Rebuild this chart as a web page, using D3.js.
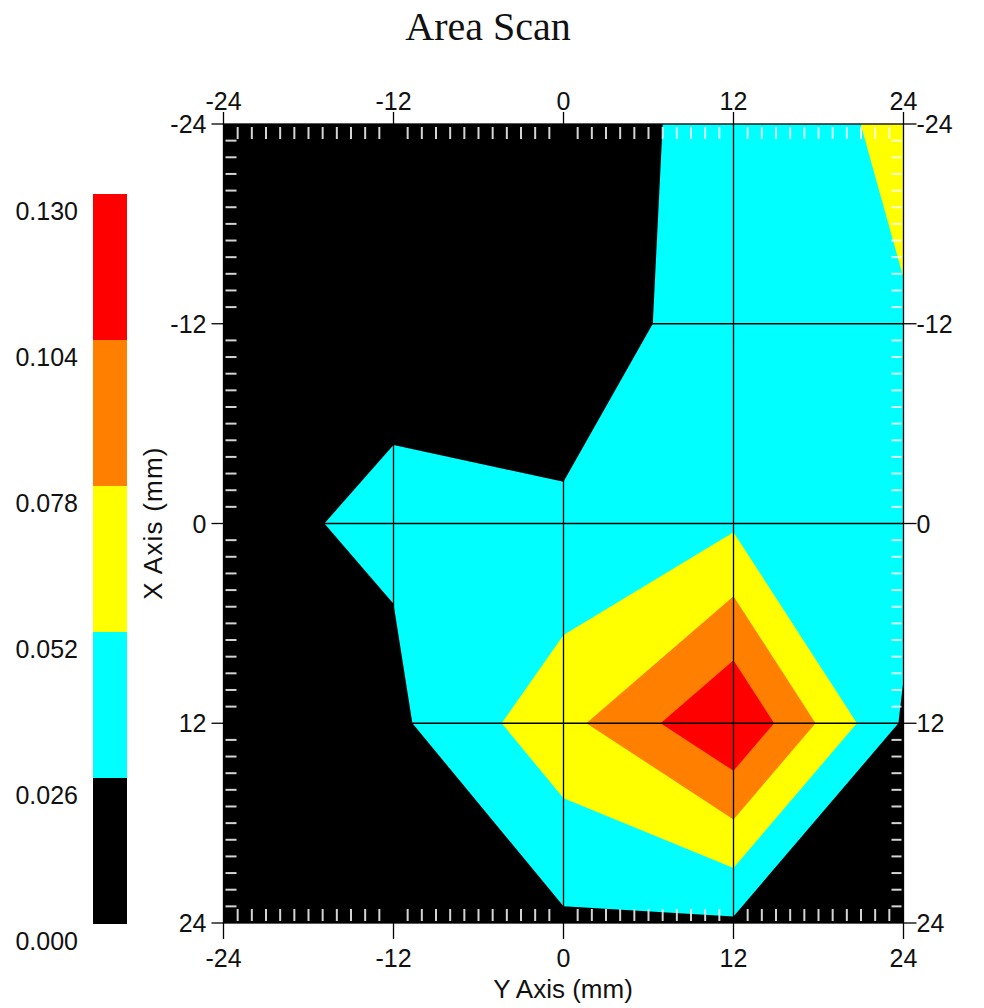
<!DOCTYPE html>
<html><head><meta charset="utf-8">
<script src="https://cdn.jsdelivr.net/npm/d3@7"></script>
<style>body{margin:0;background:#fff;} svg{display:block}</style>
</head><body>
<svg id="c" width="984" height="1008"></svg>
<script>
// grid positions (mm)
const colsMM = [-24, -12, 0, 12, 24];   // horizontal: "Y Axis (mm)"
const rowsMM = [-24, -12, 0, 12, 24];   // vertical: "X Axis (mm)"
// measured values, one array per row (top row = -24)
const rowM24 = [0.010, 0.011, 0.012, 0.036, 0.0574];
const rowM12 = [0.012, 0.0203, 0.0135, 0.0373, 0.0504];
const row0   = [0.0206, 0.0297, 0.0293, 0.0485, 0.0376];
const row12  = [0.016, 0.0205, 0.070, 0.1295, 0.0228];
const row24  = [0.012, 0.015, 0.022, 0.0225, 0.018];
// colour levels
const levels = [0.000, 0.026, 0.052, 0.078, 0.104, 0.130];
const levelLabels = ["0.000", "0.026", "0.052", "0.078", "0.104", "0.130"];
const levelColors = ["#000000", "#00ffff", "#ffff00", "#ff8000", "#ff0000"];
const tickValues = [-24, -12, 0, 12, 24];
const tickLabels = ["-24", "-12", "0", "12", "24"];

const svg = d3.select("#c");
const numFont = "'Liberation Sans', Arial, sans-serif";

const x = d3.scaleLinear().domain([-24, 24]).range([223.5, 903.5]);
const y = d3.scaleLinear().domain([-24, 24]).range([124, 923]);

// title
svg.append("text").attr("x", 488).attr("y", 40).attr("text-anchor", "middle")
  .attr("font-family", "'Liberation Serif', 'Times New Roman', serif").attr("font-size", 40)
  .attr("fill", "#111").text("Area Scan");

// clip
svg.append("defs").append("clipPath").attr("id", "plotClip").append("rect")
  .attr("x", x(-24)).attr("y", y(-24)).attr("width", x(24) - x(-24)).attr("height", y(24) - y(-24));

const plot = svg.append("g").attr("clip-path", "url(#plotClip)");
plot.append("rect").attr("x", x(-24)).attr("y", y(-24))
  .attr("width", x(24) - x(-24)).attr("height", y(24) - y(-24)).attr("fill", levelColors[0]);

// contours
const nx = colsMM.length, ny = rowsMM.length;
const values = [].concat(rowM24, rowM12, row0, row12, row24);
const gx = d3.scaleLinear().domain([0.5, nx - 0.5]).range([x(colsMM[0]), x(colsMM[nx - 1])]);
const gy = d3.scaleLinear().domain([0.5, ny - 0.5]).range([y(rowsMM[0]), y(rowsMM[ny - 1])]);
const contours = d3.contours().size([nx, ny]).thresholds(levels.slice(1, 5))(values);
const path = d3.geoPath(d3.geoTransform({point: function(px, py) { this.stream.point(gx(px), gy(py)); }}));
plot.selectAll("path.band").data(contours).join("path").attr("class", "band")
  .attr("d", path).attr("fill", (d, i) => levelColors[i + 1]).attr("stroke", "none");

// grid lines
[-12, 0, 12].forEach(v => {
  plot.append("line").attr("x1", x(v)).attr("x2", x(v)).attr("y1", y(-24)).attr("y2", y(24))
    .attr("stroke", "#000").attr("stroke-width", 1.3);
  plot.append("line").attr("y1", y(v)).attr("y2", y(v)).attr("x1", x(-24)).attr("x2", x(24))
    .attr("stroke", "#000").attr("stroke-width", 1.3);
});

// inner minor ticks (light, blended so they fade on bright fills)
const minors = d3.range(-23, 24).filter(v => v % 12 !== 0);
const mt = plot.append("g").attr("stroke", "#d4d4d4").attr("stroke-width", 2)
  .style("mix-blend-mode", "lighten");
minors.forEach(v => {
  mt.append("line").attr("x1", x(v)).attr("x2", x(v)).attr("y1", y(-24) + 3).attr("y2", y(-24) + 15);
  mt.append("line").attr("x1", x(v)).attr("x2", x(v)).attr("y1", y(24) - 2).attr("y2", y(24) - 14);
  mt.append("line").attr("y1", y(v)).attr("y2", y(v)).attr("x1", x(-24) + 2).attr("x2", x(-24) + 13);
  mt.append("line").attr("y1", y(v)).attr("y2", y(v)).attr("x1", x(24) - 2).attr("x2", x(24) - 12);
});

// frame
svg.append("rect").attr("x", x(-24)).attr("y", y(-24)).attr("width", x(24) - x(-24))
  .attr("height", y(24) - y(-24)).attr("fill", "none").attr("stroke", "#000").attr("stroke-width", 1.3);

// major ticks and labels
const ax = svg.append("g").attr("stroke", "#000").attr("stroke-width", 1.3);
const lab = svg.append("g").attr("font-family", numFont).attr("font-size", 25).attr("fill", "#111");
tickValues.forEach((v, i) => {
  ax.append("line").attr("x1", x(v)).attr("x2", x(v)).attr("y1", y(-24)).attr("y2", y(-24) - 12);
  ax.append("line").attr("x1", x(v)).attr("x2", x(v)).attr("y1", y(24)).attr("y2", y(24) + 16);
  ax.append("line").attr("y1", y(v)).attr("y2", y(v)).attr("x1", x(-24)).attr("x2", x(-24) - 12);
  ax.append("line").attr("y1", y(v)).attr("y2", y(v)).attr("x1", x(24)).attr("x2", x(24) + 13);
  lab.append("text").attr("x", x(v)).attr("y", y(-24) - 14).attr("text-anchor", "middle").text(tickLabels[i]);
  lab.append("text").attr("x", x(v)).attr("y", y(24) + 44).attr("text-anchor", "middle").text(tickLabels[i]);
  lab.append("text").attr("x", x(-24) - 17).attr("y", y(v)).attr("dy", "0.36em").attr("text-anchor", "end").text(tickLabels[i]);
  lab.append("text").attr("x", x(24) + 13).attr("y", y(v)).attr("dy", "0.36em").attr("text-anchor", "start").text(tickLabels[i]);
});

// axis titles
svg.append("text").attr("x", 563).attr("y", 998).attr("text-anchor", "middle")
  .attr("font-family", numFont).attr("font-size", 26).attr("fill", "#111").text("Y Axis (mm)");
svg.append("text").attr("transform", "translate(162,523) rotate(-90)").attr("text-anchor", "middle")
  .attr("font-family", numFont).attr("font-size", 26).attr("letter-spacing", 1.2).attr("fill", "#111").text("X Axis (mm)");

// colour bar
const cb = d3.scaleLinear().domain([levels[0], levels[levels.length - 1]]).range([924, 194]);
const bar = svg.append("g");
levelColors.forEach((c, i) => {
  bar.append("rect").attr("x", 93).attr("width", 34)
    .attr("y", cb(levels[i + 1])).attr("height", cb(levels[i]) - cb(levels[i + 1])).attr("fill", c);
});
levels.forEach((v, i) => {
  bar.append("text").attr("x", 78).attr("y", cb(v) + 17).attr("dy", "0.36em").attr("text-anchor", "end")
    .attr("font-family", numFont).attr("font-size", 25).attr("fill", "#111").text(levelLabels[i]);
});
</script>
</body></html>
